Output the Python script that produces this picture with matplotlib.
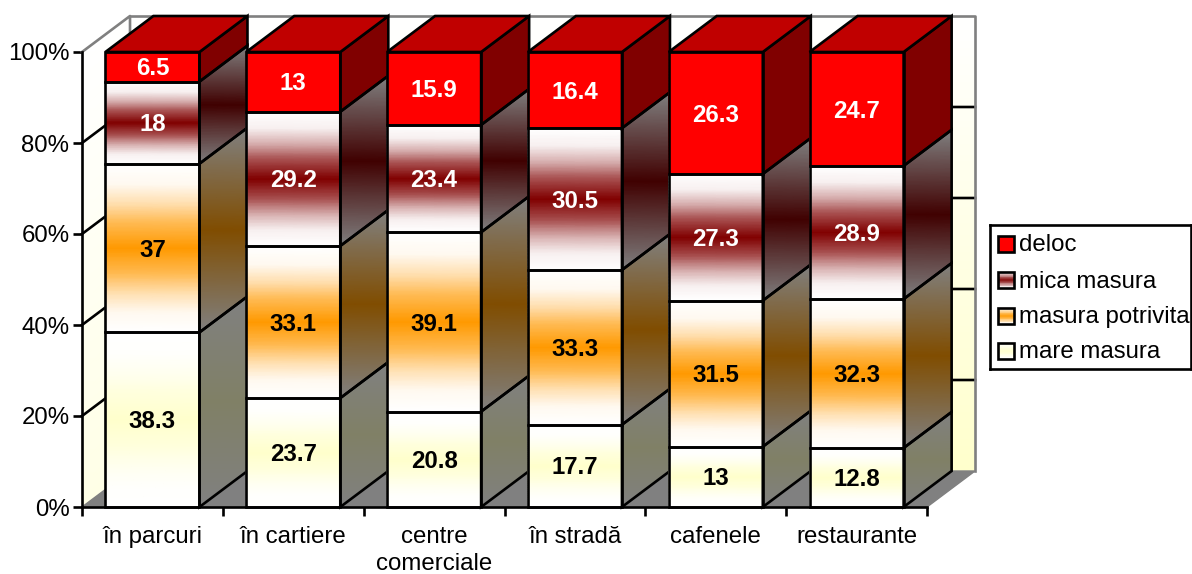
#!/usr/bin/env python3
"""Stacked 100% pseudo-3D bars with gradient faces, drawn on a plain 2D axes."""

import numpy as np
import matplotlib
matplotlib.use('Agg')
import matplotlib.pyplot as plt
from matplotlib.colors import LinearSegmentedColormap, to_rgb
from matplotlib.patches import Polygon, Rectangle

plt.rcParams['font.family'] = ['Liberation Sans', 'DejaVu Sans']

categories = ['în parcuri', 'în cartiere', 'centre\ncomerciale', 'în stradă',
              'cafenele', 'restaurante']
mare_masura = [38.3, 23.7, 20.8, 17.7, 13, 12.8]
masura_potrivita = [37, 33.1, 39.1, 33.3, 31.5, 32.3]
mica_masura = [18, 29.2, 23.4, 30.5, 27.3, 28.9]
deloc = [6.5, 13, 15.9, 16.4, 26.3, 24.7]
series_names = ['mare masura', 'masura potrivita', 'mica masura', 'deloc']
y_ticks = [0, 20, 40, 60, 80, 100]

W, H = 1192, 574
FONT = 17.3
LW = 1.9
DX = 48 / 140.8   # depth in category units
DY = 36 / 4.55    # depth in percent units
BAR_W = 0.668
GREY = '#808080'

# front colours: edge, middle / side colours: edge, middle
styles = [
    dict(front=('#FFFFFF', '#FFFFCC'), side=('#808080', '#808066'), text='black'),
    dict(front=('#FFFFFF', '#FF9900'), side=('#808080', '#804D00'), text='black'),
    dict(front=('#FFFFFF', '#800000'), side=('#808080', '#400000'), text='white'),
    dict(front=('#FF0000', '#FF0000'), side=('#800000', '#800000'), text='white'),
]


def band_cmap(edge, mid, eased=False):
    """Edge-mid-edge colour band; eased keeps the outer part of the band pale."""
    if not eased:
        return LinearSegmentedColormap.from_list('band', [edge, mid, edge], N=256)
    e, m = np.array(to_rgb(edge)), np.array(to_rgb(mid))
    stops = [(0, 0), (0.12, 0.06), (0.23, 0.3), (0.35, 0.68), (0.5, 1)]
    half = [(t, tuple(e + (m - e) * s)) for t, s in stops]
    other = [(1 - t, c) for t, c in reversed(half[:-1])]
    return LinearSegmentedColormap.from_list('band', half + other, N=256)


def shade(ax, xs, y0, y1, skew, cmap, zorder):
    """Vertical gradient on a quad with bottom y0..y1, skew = y rise across xs."""
    t = np.linspace(0, 1, 41)
    X = np.tile(xs, (t.size, 1))
    Y = np.column_stack([y0 + (y1 - y0) * t, y0 + (y1 - y0) * t + skew])
    C = np.column_stack([t, t])
    return ax.pcolormesh(X, Y, C, cmap=cmap, vmin=0, vmax=1, shading='gouraud',
                         zorder=zorder, clip_on=False)


def shade_side(ax, x1, bottom, top, cmap, zorder):
    """Side face: level colour bands over the bounding box, cut to the parallelogram."""
    t = np.linspace(0, 1, 41)
    Y = bottom + (top + DY - bottom) * t
    mesh = ax.pcolormesh([x1, x1 + DX], Y, np.column_stack([t, t]), cmap=cmap, vmin=0,
                         vmax=1, shading='gouraud', zorder=zorder)
    clip = Polygon([(x1, bottom), (x1 + DX, bottom + DY), (x1 + DX, top + DY), (x1, top)],
                   closed=True, transform=ax.transData)
    mesh.set_clip_path(clip)
    mesh.set_clip_box(None)
    return mesh


def outline(ax, pts, zorder, face='none', edge='black', lw=LW):
    ax.add_patch(Polygon(pts, closed=True, facecolor=face, edgecolor=edge, lw=lw,
                         zorder=zorder, clip_on=False, joinstyle='miter'))


fig = plt.figure(figsize=(W / 100, H / 100), dpi=100, facecolor='white')
ax = fig.add_axes([82 / W, (H - 507) / H, 845 / W, 455 / H])
ax.set_xlim(0, len(categories))
ax.set_ylim(0, 100)
ax.patch.set_visible(False)

# walls and floor
n = len(categories)
wall = LinearSegmentedColormap.from_list('wall', ['#FFFFCC', '#FFFFFF'])
side_wall = LinearSegmentedColormap.from_list('side_wall', ['#FFFFE6', '#FFFFFF'])
shade(ax, [DX, n + DX], DY, 100 + DY, 0, wall, 1)
shade(ax, [0, DX], 0, 100, DY, side_wall, 1)
for v in y_ticks[1:-1]:
    ax.plot([0, DX, n + DX], [v, v + DY, v + DY], color='black', lw=LW, zorder=2,
            clip_on=False)
outline(ax, [(0, 0), (DX, DY), (n + DX, DY), (n, 0)], 2, face=GREY, edge=GREY, lw=1)
ax.plot([0, DX, DX], [100, 100 + DY, DY], color=GREY, lw=LW, zorder=2, clip_on=False)
ax.plot([DX, n + DX, n + DX], [100 + DY, 100 + DY, DY], color=GREY, lw=LW,
        zorder=2, clip_on=False)

# bars, left to right so each one sits on the side face of the previous
stack = np.array([mare_masura, masura_potrivita, mica_masura, deloc], dtype=float)
totals = stack.sum(axis=0)
z = 3
for i in range(n):
    x0 = i + 0.5 - BAR_W / 2
    x1 = x0 + BAR_W
    bottom = 0.0
    for j, st in enumerate(styles):
        h = stack[j, i] / totals[i] * 100
        top = bottom + h
        shade(ax, [x0, x1], bottom, top, 0, band_cmap(*st['front'], eased=True), z)
        shade_side(ax, x1, bottom, top, band_cmap(*st['side']), z)
        outline(ax, [(x0, bottom), (x1, bottom), (x1, top), (x0, top)], z + 1)
        outline(ax, [(x1, bottom), (x1 + DX, bottom + DY), (x1 + DX, top + DY),
                     (x1, top)], z + 1)
        ax.annotate(f'{stack[j, i]:g}', (i + 0.5, bottom + h / 2), xytext=(0, -1.5),
                    textcoords='offset points', color=st['text'], ha='center',
                    va='center', fontsize=FONT, fontweight='bold', zorder=50)
        bottom = top
    outline(ax, [(x0, 100), (x1, 100), (x1 + DX, 100 + DY), (x0 + DX, 100 + DY)],
            z + 1, face='#C00000')
    z += 2

# axes
for side in ('top', 'right'):
    ax.spines[side].set_visible(False)
for side in ('left', 'bottom'):
    ax.spines[side].set_linewidth(LW)
    ax.spines[side].set_zorder(40)
ax.set_yticks(y_ticks)
ax.set_yticklabels([f'{v}%' for v in y_ticks], fontsize=FONT)
ax.set_xticks(np.arange(n + 1))
ax.set_xticklabels([])
ax.set_xticks(np.arange(n) + 0.5, minor=True)
ax.set_xticklabels(categories, minor=True, fontsize=FONT, linespacing=1.28)
ax.tick_params(axis='both', which='major', length=6.5, width=LW, pad=2.5)
ax.tick_params(axis='x', which='minor', length=0, pad=13.5)

# legend, in pixel coordinates of its own axes
leg = fig.add_axes([990 / W, (H - 369) / H, 201 / W, 144 / H])
leg.set_xlim(990, 1191)
leg.set_ylim(369, 225)
leg.set_xticks([])
leg.set_yticks([])
for sp in leg.spines.values():
    sp.set_linewidth(LW)
rows = [(3, 243.5), (2, 280), (1, 316), (0, 351)]
for j, yc in rows:
    leg.pcolormesh([998, 1014], np.linspace(yc - 8, yc + 8, 22),
                   np.linspace(0, 1, 21)[:, None], cmap=band_cmap(*styles[j]['front']),
                   vmin=0, vmax=1)
    leg.add_patch(Rectangle((998, yc - 8), 16, 16, fill=False, edgecolor='black', lw=LW))
    leg.text(1019, yc + 1.5, series_names[j], fontsize=FONT, va='center', ha='left',
             clip_on=False)

fig.savefig('out.png', dpi=100, facecolor='white')
